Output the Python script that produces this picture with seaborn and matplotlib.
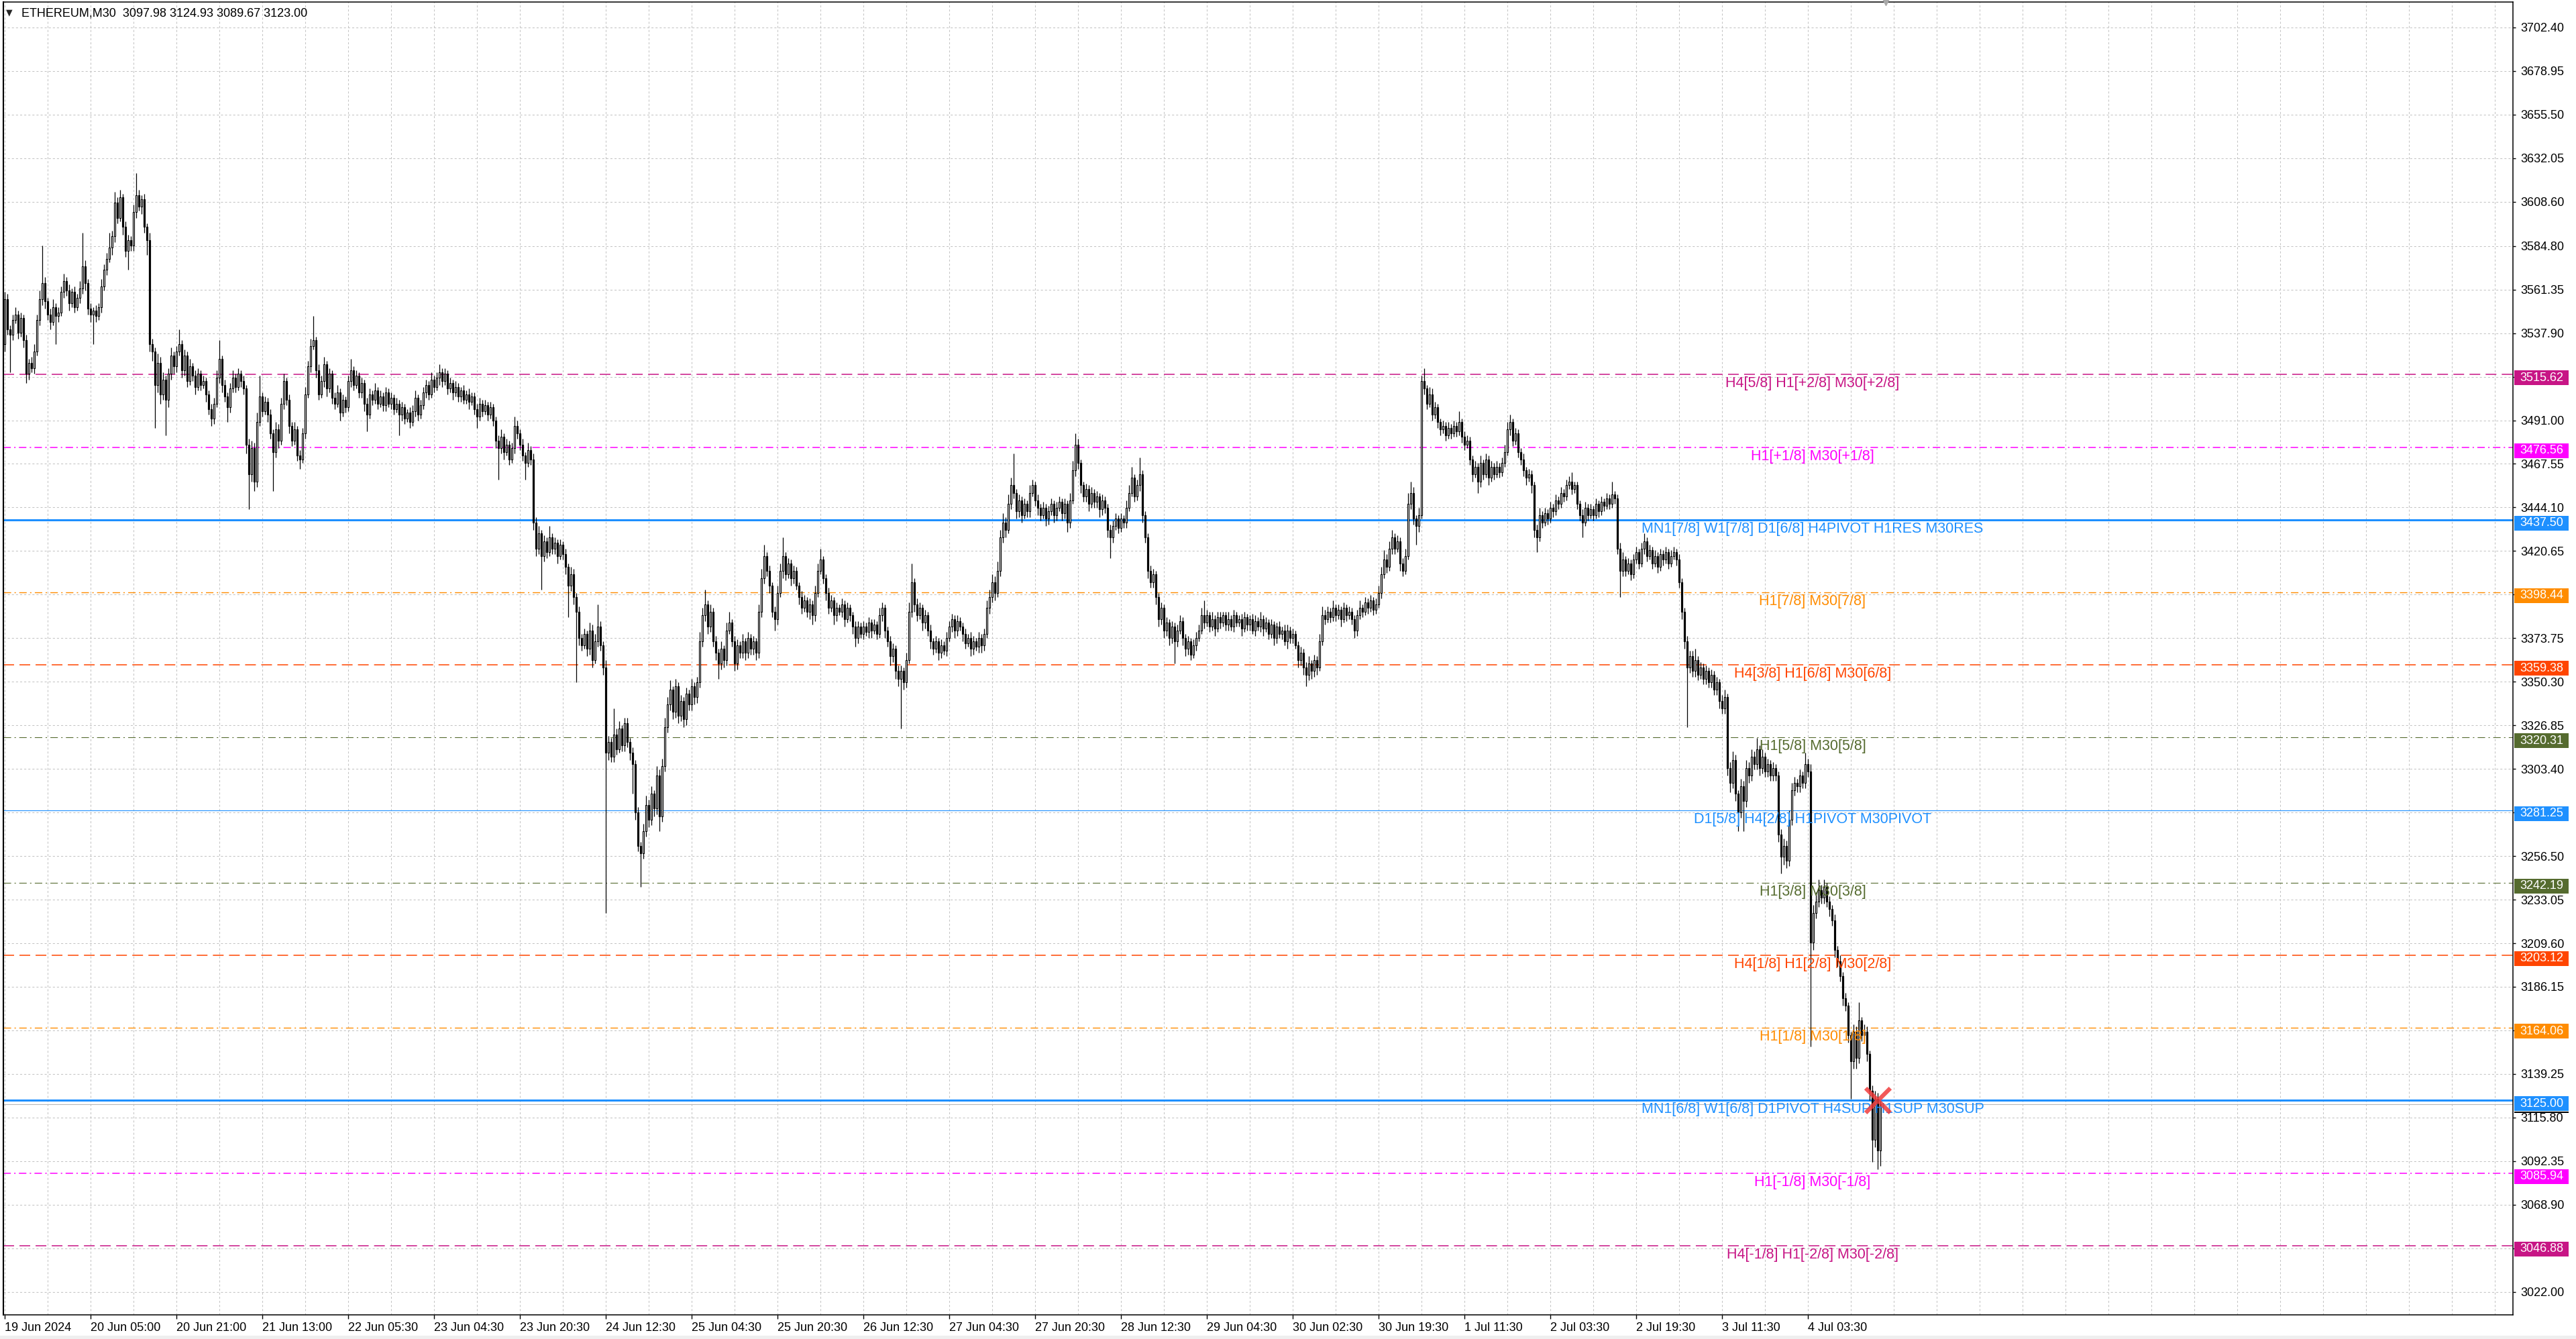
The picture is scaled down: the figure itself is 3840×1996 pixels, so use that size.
"""
ETHEREUM M30 candlestick chart with Murrey-math style levels
"""

import numpy as np
import matplotlib
matplotlib.use("Agg")
import matplotlib.pyplot as plt
import matplotlib.transforms as mtransforms
from matplotlib.patches import Rectangle
from matplotlib.ticker import FixedLocator
import seaborn as sns

sns.set_theme(style="white")
plt.rcParams.update({
    "font.family":        ["Liberation Sans", "DejaVu Sans"],
    "lines.scale_dashes": False,
    "axes.edgecolor":     "black",
    "figure.facecolor":   "white",
    "axes.facecolor":     "white",
})

# ─── DATA ────────────────────────────────────────────────────────────────────

first_open = 3532.0

closes = [
    3556, 3540, 3537, 3545, 3548, 3538, 3546, 3534, 3516, 3522, 3519, 3528, 3545, 3556, 3565, 3555,
    3548, 3544, 3552, 3547, 3549, 3560, 3566, 3561, 3554, 3560, 3552, 3557, 3562, 3574, 3565, 3551,
    3548, 3550, 3547, 3552, 3563, 3572, 3578, 3584, 3590, 3608, 3600, 3611, 3595, 3582, 3588, 3585,
    3603, 3612, 3606, 3610, 3595, 3588, 3532, 3528, 3510, 3522, 3505, 3513, 3502, 3516, 3526, 3520,
    3528, 3532, 3518, 3526, 3512, 3520, 3515, 3509, 3516, 3510, 3512, 3505, 3497, 3492, 3500, 3514,
    3524, 3510, 3504, 3498, 3508, 3514, 3509, 3516, 3512, 3508, 3478, 3462, 3476, 3458, 3490, 3504,
    3496, 3501, 3494, 3484, 3474, 3486, 3480, 3500, 3512, 3502, 3488, 3480, 3486, 3472, 3470, 3484,
    3505, 3520, 3531, 3534, 3518, 3505, 3512, 3521, 3508, 3516, 3503, 3500, 3506, 3495, 3502, 3498,
    3512, 3518, 3510, 3515, 3506, 3511, 3500, 3494, 3505, 3502, 3507, 3500, 3504, 3499, 3506, 3500,
    3503, 3497, 3500, 3494, 3498, 3492, 3495, 3490, 3496, 3503, 3494, 3499, 3506, 3510, 3505, 3513,
    3509, 3514, 3517, 3512, 3516, 3508, 3511, 3506, 3509, 3504, 3507, 3502, 3505, 3501, 3504, 3497,
    3493, 3500, 3496, 3499, 3494, 3498, 3491, 3480, 3476, 3482, 3474, 3478, 3470, 3476, 3488, 3484,
    3478, 3472, 3468, 3475, 3470, 3436, 3422, 3430, 3418, 3426, 3420, 3428, 3422, 3425, 3418, 3424,
    3419, 3412, 3402, 3408, 3396, 3388, 3374, 3370, 3376, 3368, 3378, 3362, 3372, 3380, 3370, 3358,
    3312, 3318, 3310, 3322, 3314, 3325, 3316, 3328, 3318, 3312, 3306, 3280, 3262, 3258, 3270, 3284,
    3276, 3290, 3282, 3300, 3278, 3305, 3326, 3338, 3346, 3334, 3348, 3332, 3340, 3330, 3344, 3338,
    3348, 3342, 3350, 3372, 3386, 3392, 3380, 3388, 3372, 3366, 3360, 3368, 3362, 3378, 3382, 3372,
    3360, 3370, 3366, 3372, 3366, 3374, 3368, 3372, 3366, 3388, 3406, 3418, 3410, 3402, 3388, 3384,
    3398, 3410, 3418, 3408, 3414, 3406, 3410, 3402, 3396, 3390, 3394, 3388, 3392, 3386, 3398, 3410,
    3416, 3406, 3398, 3390, 3394, 3386, 3390, 3388, 3392, 3384, 3390, 3386, 3380, 3374, 3380, 3376,
    3380, 3377, 3382, 3378, 3381, 3376, 3386, 3390, 3378, 3372, 3364, 3368, 3356, 3352, 3356, 3350,
    3362, 3388, 3404, 3392, 3386, 3390, 3382, 3386, 3378, 3372, 3368, 3372, 3366, 3370, 3367, 3374,
    3380, 3384, 3378, 3383, 3380, 3376, 3371, 3374, 3368, 3372, 3369, 3374, 3370, 3376, 3390, 3396,
    3404, 3398, 3410, 3428, 3436, 3432, 3446, 3456, 3452, 3442, 3448, 3440, 3446, 3442, 3452, 3456,
    3448, 3444, 3440, 3444, 3438, 3442, 3446, 3440, 3444, 3447, 3441, 3446, 3436, 3448, 3464, 3478,
    3468, 3456, 3450, 3454, 3446, 3452, 3447, 3450, 3443, 3448, 3444, 3432, 3428, 3434, 3438, 3433,
    3438, 3436, 3444, 3452, 3460, 3450, 3456, 3462, 3440, 3428, 3410, 3404, 3408, 3396, 3384, 3390,
    3378, 3382, 3374, 3380, 3372, 3378, 3383, 3374, 3368, 3372, 3365, 3370, 3374, 3378, 3386, 3382,
    3386, 3380, 3384, 3379, 3385, 3382, 3386, 3381, 3384, 3380, 3386, 3382, 3384, 3379, 3385, 3381,
    3384, 3378, 3383, 3380, 3384, 3379, 3382, 3376, 3381, 3374, 3380, 3376, 3378, 3372, 3378, 3374,
    3376, 3370, 3362, 3366, 3358, 3354, 3360, 3356, 3362, 3358, 3372, 3386, 3384, 3388, 3385, 3390,
    3386, 3389, 3384, 3390, 3386, 3388, 3384, 3378, 3386, 3390, 3388, 3393, 3390, 3394, 3389, 3392,
    3398, 3408, 3416, 3412, 3422, 3428, 3422, 3426, 3414, 3410, 3418, 3446, 3452, 3438, 3434, 3440,
    3512, 3508, 3500, 3505, 3494, 3498, 3490, 3486, 3488, 3483, 3487, 3484, 3488, 3485, 3490, 3482,
    3478, 3480, 3470, 3462, 3466, 3458, 3468, 3462, 3470, 3460, 3466, 3462, 3466, 3463, 3468, 3474,
    3486, 3490, 3480, 3484, 3474, 3470, 3464, 3460, 3462, 3456, 3432, 3428, 3440, 3436, 3441, 3438,
    3444, 3442, 3448, 3446, 3452, 3450, 3456, 3458, 3454, 3456, 3446, 3440, 3436, 3444, 3440, 3443,
    3440, 3446, 3442, 3447, 3445, 3449, 3446, 3451, 3449, 3422, 3410, 3416, 3410, 3414, 3408, 3416,
    3420, 3414, 3422, 3426, 3418, 3421, 3414, 3418, 3412, 3419, 3416, 3420, 3414, 3418, 3420, 3416,
    3404, 3388, 3372, 3358, 3364, 3356, 3362, 3354, 3358, 3352, 3356, 3350, 3354, 3346, 3350, 3340,
    3336, 3342, 3304, 3296, 3308, 3290, 3280, 3294, 3286, 3304, 3300, 3310, 3306, 3314, 3304, 3310,
    3302, 3306, 3300, 3304, 3300, 3268, 3256, 3262, 3254, 3276, 3292, 3296, 3294, 3300, 3296, 3306,
    3302, 3210, 3226, 3232, 3238, 3234, 3240, 3232, 3228, 3222, 3206, 3200, 3192, 3180, 3176, 3160,
    3146, 3162, 3148, 3168, 3160, 3162, 3150, 3130, 3104, 3126, 3097.98, 3123.00,
]

# distance from the body to the high / low of each candle
wick_up = [
    4, 3, 2, 3, 4, 2, 3, 2, 3, 2, 3, 4, 3, 5, 20, 3,
    2, 3, 4, 2, 3, 3, 4, 2, 3, 2, 3, 2, 4, 18, 3, 2,
    3, 2, 3, 2, 4, 3, 3, 8, 3, 6, 3, 4, 2, 3, 3, 2,
    4, 12, 3, 2, 3, 2, 4, 3, 2, 5, 3, 4, 2, 3, 4, 2,
    3, 8, 2, 3, 2, 4, 2, 3, 3, 2, 3, 2, 2, 3, 3, 4,
    10, 2, 3, 2, 3, 4, 2, 3, 2, 3, 2, 3, 4, 3, 5, 11,
    2, 3, 2, 3, 2, 4, 3, 3, 4, 2, 3, 2, 4, 2, 3, 3,
    4, 3, 4, 13, 2, 3, 3, 4, 2, 3, 2, 3, 4, 2, 3, 2,
    3, 6, 2, 3, 2, 3, 2, 3, 3, 2, 4, 2, 3, 2, 3, 2,
    3, 2, 3, 2, 3, 2, 2, 3, 3, 4, 2, 3, 3, 3, 2, 4,
    2, 3, 4, 2, 3, 2, 3, 2, 3, 2, 2, 3, 2, 3, 2, 2,
    3, 3, 2, 3, 2, 3, 2, 2, 3, 4, 2, 3, 2, 3, 5, 3,
    2, 3, 2, 4, 2, 3, 3, 4, 2, 3, 2, 6, 2, 3, 2, 3,
    2, 3, 2, 4, 3, 2, 3, 2, 3, 2, 4, 3, 4, 12, 3, 2,
    4, 3, 2, 14, 3, 4, 2, 3, 3, 2, 3, 2, 3, 2, 4, 5,
    3, 4, 2, 5, 3, 4, 5, 4, 5, 2, 4, 2, 3, 2, 3, 2,
    4, 2, 3, 5, 4, 8, 2, 4, 2, 3, 2, 4, 2, 4, 6, 2,
    3, 3, 2, 4, 2, 3, 2, 3, 2, 4, 5, 6, 2, 3, 2, 3,
    4, 4, 10, 2, 3, 2, 3, 2, 2, 3, 3, 2, 3, 2, 4, 4,
    6, 2, 2, 3, 3, 2, 3, 2, 3, 2, 3, 2, 2, 3, 3, 2,
    3, 2, 3, 2, 3, 2, 4, 3, 2, 2, 3, 3, 2, 3, 3, 2,
    4, 5, 10, 2, 3, 3, 2, 3, 2, 3, 2, 3, 2, 3, 2, 3,
    3, 3, 2, 3, 2, 2, 3, 2, 3, 3, 2, 3, 2, 3, 4, 4,
    4, 3, 5, 4, 5, 3, 5, 4, 17, 2, 3, 2, 3, 2, 4, 3,
    2, 3, 2, 3, 2, 3, 3, 2, 3, 3, 2, 3, 2, 4, 5, 6,
    3, 2, 2, 3, 2, 3, 2, 3, 2, 3, 2, 2, 3, 3, 3, 2,
    3, 2, 4, 4, 6, 2, 3, 9, 2, 2, 2, 3, 3, 2, 2, 3,
    2, 3, 2, 3, 2, 3, 3, 2, 2, 3, 2, 3, 3, 3, 4, 8,
    3, 2, 4, 2, 3, 3, 2, 2, 4, 2, 3, 2, 2, 3, 3, 2,
    2, 3, 3, 2, 4, 2, 3, 2, 3, 2, 2, 3, 2, 3, 3, 2,
    3, 2, 2, 3, 2, 3, 4, 2, 3, 2, 4, 5, 3, 3, 2, 4,
    2, 3, 2, 3, 2, 3, 2, 2, 3, 4, 2, 3, 2, 3, 2, 3,
    4, 4, 5, 3, 4, 4, 2, 3, 2, 3, 4, 6, 6, 3, 2, 4,
    3, 7, 2, 4, 3, 3, 2, 2, 3, 2, 3, 2, 3, 2, 6, 2,
    3, 3, 2, 2, 3, 2, 4, 2, 3, 2, 3, 2, 3, 2, 3, 4,
    4, 4, 2, 3, 2, 2, 3, 2, 3, 2, 2, 3, 4, 2, 3, 2,
    3, 2, 3, 2, 3, 2, 3, 3, 5, 2, 2, 2, 3, 3, 2, 3,
    2, 3, 2, 3, 2, 3, 2, 7, 2, 2, 3, 4, 2, 3, 2, 3,
    3, 2, 3, 4, 2, 3, 2, 3, 2, 3, 2, 3, 2, 3, 3, 2,
    3, 2, 2, 3, 3, 3, 6, 2, 3, 2, 3, 2, 3, 2, 3, 2,
    3, 4, 2, 3, 5, 3, 2, 4, 3, 4, 3, 4, 3, 6, 2, 4,
    2, 3, 2, 3, 2, 2, 3, 4, 3, 5, 4, 3, 2, 3, 2, 6,
    3, 4, 4, 5, 6, 3, 4, 2, 3, 2, 3, 2, 3, 2, 3, 2,
    2, 4, 3, 10, 2, 4, 3, 2, 3, 4, 3, 1.93,
]

wick_dn = [
    4, 3, 20, 3, 2, 3, 2, 4, 5, 3, 2, 3, 2, 3, 3, 4,
    3, 4, 2, 15, 3, 2, 3, 3, 4, 2, 3, 2, 3, 3, 4, 3,
    4, 16, 3, 2, 3, 2, 3, 2, 4, 3, 3, 2, 4, 3, 10, 3,
    3, 3, 2, 4, 3, 8, 4, 5, 23, 4, 5, 3, 19, 4, 3, 4,
    3, 2, 4, 3, 3, 2, 3, 4, 2, 3, 2, 4, 3, 4, 3, 2,
    3, 4, 3, 8, 3, 2, 3, 2, 3, 3, 5, 19, 4, 5, 3, 2,
    3, 2, 4, 3, 21, 3, 4, 2, 3, 3, 4, 3, 2, 3, 5, 2,
    3, 2, 3, 2, 4, 3, 2, 3, 4, 2, 3, 3, 2, 4, 2, 3,
    2, 3, 3, 2, 3, 3, 4, 9, 2, 3, 2, 3, 2, 3, 3, 2,
    3, 3, 2, 11, 3, 3, 2, 3, 2, 3, 3, 2, 2, 3, 3, 2,
    3, 2, 4, 3, 2, 3, 2, 4, 2, 3, 3, 2, 2, 4, 2, 3,
    6, 2, 3, 2, 3, 2, 3, 4, 17, 3, 4, 2, 3, 2, 3, 3,
    3, 3, 9, 2, 3, 4, 4, 3, 18, 3, 3, 2, 3, 3, 4, 2,
    3, 4, 17, 3, 4, 38, 4, 3, 2, 4, 3, 4, 2, 3, 3, 4,
    86, 4, 3, 3, 3, 2, 3, 3, 3, 4, 16, 4, 3, 18, 3, 3,
    4, 3, 4, 3, 8, 3, 3, 3, 3, 4, 3, 4, 3, 4, 3, 3,
    3, 4, 3, 3, 3, 3, 4, 3, 3, 4, 8, 3, 4, 3, 2, 3,
    4, 3, 3, 3, 4, 3, 3, 3, 4, 3, 3, 3, 3, 4, 3, 6,
    3, 2, 4, 3, 2, 4, 3, 2, 4, 3, 2, 3, 4, 5, 3, 2,
    2, 3, 4, 3, 2, 5, 3, 2, 3, 4, 2, 3, 4, 5, 3, 2,
    3, 2, 3, 4, 2, 3, 2, 3, 4, 3, 5, 3, 4, 4, 27, 4,
    3, 2, 3, 4, 3, 2, 4, 3, 3, 4, 3, 2, 4, 3, 2, 3,
    2, 3, 4, 3, 2, 4, 3, 2, 4, 3, 2, 3, 4, 3, 2, 3,
    3, 4, 2, 3, 3, 4, 2, 3, 3, 4, 3, 4, 2, 3, 3, 2,
    3, 4, 3, 2, 4, 3, 2, 4, 3, 2, 4, 3, 5, 3, 2, 3,
    3, 4, 3, 3, 4, 2, 3, 3, 4, 3, 3, 4, 11, 3, 2, 3,
    2, 3, 3, 2, 2, 3, 2, 3, 4, 3, 4, 3, 3, 4, 4, 3,
    4, 3, 4, 3, 12, 3, 2, 4, 4, 3, 3, 2, 3, 2, 2, 3,
    2, 3, 2, 4, 2, 3, 2, 3, 3, 2, 3, 2, 2, 4, 2, 3,
    3, 2, 3, 2, 3, 4, 2, 3, 2, 4, 3, 2, 3, 2, 4, 3,
    3, 2, 4, 3, 4, 6, 3, 4, 3, 4, 2, 2, 3, 2, 3, 2,
    3, 2, 4, 2, 3, 2, 3, 4, 3, 2, 3, 2, 3, 2, 3, 2,
    2, 3, 2, 3, 2, 3, 3, 2, 4, 3, 2, 2, 3, 3, 10, 3,
    2, 3, 3, 2, 3, 2, 3, 3, 2, 3, 2, 3, 2, 3, 2, 3,
    3, 2, 3, 4, 2, 6, 3, 3, 2, 4, 2, 3, 2, 3, 2, 2,
    2, 3, 3, 2, 3, 3, 3, 4, 2, 4, 4, 8, 2, 3, 2, 3,
    2, 3, 2, 3, 2, 3, 2, 2, 3, 2, 3, 3, 8, 2, 3, 2,
    3, 2, 3, 2, 3, 2, 3, 2, 3, 3, 14, 3, 3, 2, 3, 2,
    2, 3, 2, 3, 3, 2, 3, 2, 3, 2, 3, 2, 3, 2, 2, 3,
    3, 4, 4, 32, 3, 3, 3, 3, 2, 3, 3, 3, 3, 3, 3, 4,
    3, 3, 4, 5, 3, 4, 10, 3, 16, 3, 4, 3, 3, 3, 4, 3,
    3, 3, 3, 3, 3, 4, 9, 4, 4, 3, 3, 3, 3, 3, 3, 3,
    3, 56, 4, 3, 3, 3, 3, 3, 4, 3, 4, 3, 3, 4, 3, 4,
    20, 4, 6, 3, 3, 3, 4, 5, 12, 4, 10, 8.31,
]

assert len(closes) == len(wick_up) == len(wick_dn)

levels = [3515.62, 3476.56, 3437.50, 3398.44, 3359.38, 3320.31, 3281.25,
          3242.19, 3203.12, 3164.06, 3125.00, 3085.94, 3046.88]
level_labels = [
    "H4[5/8] H1[+2/8] M30[+2/8]",
    "H1[+1/8] M30[+1/8]",
    "MN1[7/8] W1[7/8] D1[6/8] H4PIVOT H1RES M30RES",
    "H1[7/8] M30[7/8]",
    "H4[3/8] H1[6/8] M30[6/8]",
    "H1[5/8] M30[5/8]",
    "D1[5/8] H4[2/8] H1PIVOT M30PIVOT",
    "H1[3/8] M30[3/8]",
    "H4[1/8] H1[2/8] M30[2/8]",
    "H1[1/8] M30[1/8]",
    "MN1[6/8] W1[6/8] D1PIVOT H4SUP H1SUP M30SUP",
    "H1[-1/8] M30[-1/8]",
    "H4[-1/8] H1[-2/8] M30[-2/8]",
]
level_colors = ["#C71585", "#FF00FF", "#1E90FF", "#FF8C00", "#FF4500", "#556B2F", "#1E90FF",
                "#556B2F", "#FF4500", "#FF8C00", "#1E90FF", "#FF00FF", "#C71585"]
DASH     = (0, (11.5, 5.8))
DASHDOT  = (0, (8, 3.6, 1.5, 3.6))
level_styles = [DASH, DASHDOT, "-", DASHDOT, DASH, DASHDOT, "-",
                DASHDOT, DASH, DASHDOT, "-", DASHDOT, DASH]
level_widths = [1.1, 1.1, 2.2, 1.0, 1.1, 0.8, 0.8, 0.8, 1.1, 1.0, 2.2, 1.1, 1.1]

price_ticks = [3702.40, 3678.95, 3655.50, 3632.05, 3608.60, 3584.80, 3561.35, 3537.90,
               3514.45, 3491.00, 3467.55, 3444.10, 3420.65, 3397.20, 3373.75, 3350.30,
               3326.85, 3303.40, 3279.95, 3256.50, 3233.05, 3209.60, 3186.15, 3162.70,
               3139.25, 3115.80, 3092.35, 3068.90, 3045.45, 3022.00]
hidden_ticks = [3514.45, 3397.20, 3279.95, 3162.70, 3045.45]   # covered by level boxes

time_labels = ["19 Jun 2024", "20 Jun 05:00", "20 Jun 21:00", "21 Jun 13:00", "22 Jun 05:30",
               "23 Jun 04:30", "23 Jun 20:30", "24 Jun 12:30", "25 Jun 04:30", "25 Jun 20:30",
               "26 Jun 12:30", "27 Jun 04:30", "27 Jun 20:30", "28 Jun 12:30", "29 Jun 04:30",
               "30 Jun 02:30", "30 Jun 19:30", "1 Jul 11:30", "2 Jul 03:30", "2 Jul 19:30",
               "3 Jul 11:30", "4 Jul 03:30"]
BARS_PER_LABEL = 32

header = "ETHEREUM,M30  3097.98 3124.93 3089.67 3123.00"
bid_price = 3123.00
marker_bar, marker_price = 698, 3125.00

# ─── CANDLES ─────────────────────────────────────────────────────────────────

c = np.array(closes, dtype=float)
o = np.r_[first_open, c[:-1]]
hi = np.maximum(o, c) + np.array(wick_up, dtype=float)
lo = np.minimum(o, c) - np.array(wick_dn, dtype=float)
x = np.arange(len(c))

W, H = 3840, 1996
fig = plt.figure(figsize=(W / 100, H / 100), dpi=100)
ax_l, ax_r, ax_t, ax_b = 5, 3746, 3, 1960
ax = fig.add_axes([ax_l / W, 1 - ax_b / H, (ax_r - ax_l) / W, (ax_b - ax_t) / H])

ax.vlines(x, lo, hi, color="black", lw=0.9, zorder=3)
bull = c >= o
ax.bar(x, np.maximum(np.abs(c - o), 0.35), bottom=np.minimum(o, c), width=0.7,
       color=np.where(bull, "white", "black"), edgecolor="black", linewidth=0.85, zorder=4)

ax.set_xlim(-0.5, 934.75)
ax.set_ylim(3009.6, 3716.1)

# ─── LEVELS ──────────────────────────────────────────────────────────────────

ax.axhline(bid_price, color="#B8B8B8", lw=0.8, zorder=2)
label_x = 673.75
lbl_tr = mtransforms.offset_copy(ax.transData, fig=fig, x=0, y=-3, units="dots")
box_tr = mtransforms.blended_transform_factory(ax.transAxes, ax.transData)
px_per_price = (ax_b - ax_t) / (3716.1 - 3009.6)
box_x0 = (3748 - ax_l) / (ax_r - ax_l)
box_w = 81 / (ax_r - ax_l)
box_h = 22 / px_per_price
box_shift = 5 / px_per_price          # the price boxes sit a few pixels below their line

for lvl, lab, col, ls, lw in zip(levels, level_labels, level_colors, level_styles, level_widths):
    ax.axhline(lvl, color=col, linestyle=ls, lw=lw, zorder=2)
    ax.text(label_x, lvl, lab, color=col, fontsize=15.5, ha="center", va="top",
            transform=lbl_tr, zorder=6)
    yc = lvl - box_shift
    ax.add_patch(Rectangle((box_x0, yc - box_h / 2), box_w, box_h, transform=box_tr,
                           facecolor=col, edgecolor="none", clip_on=False, zorder=7))
    ax.text(box_x0 + box_w / 2, yc, f"{lvl:.2f}", color="white", fontsize=13,
            ha="center", va="center", transform=box_tr, clip_on=False, zorder=8)

# thin black edge of the bid label peeking out under the 3125.00 box
ax.add_patch(Rectangle((box_x0, 3125.00 - box_shift - box_h / 2 - 1.0), box_w, 0.9,
                       transform=box_tr, facecolor="black", edgecolor="none",
                       clip_on=False, zorder=6.5))

sns.scatterplot(x=[marker_bar], y=[marker_price], marker="x", s=700, color="#F03C3C",
                linewidth=4.5, alpha=0.85, ax=ax, zorder=9, legend=False)
ax.plot([len(c) + 1], [3716.1], marker="v", color="#A8A8A8", ms=7, clip_on=False, zorder=9)

# ─── AXES, GRID, TICKS ───────────────────────────────────────────────────────

tick_pos = [i * BARS_PER_LABEL for i in range(len(time_labels))]
ax.set_xticks(tick_pos)
ax.set_xticklabels(time_labels)
for t in ax.get_xticklabels():
    t.set_ha("left")
ax.xaxis.set_minor_locator(FixedLocator(list(range(0, 935, 16))))

ax.set_yticks(price_ticks)
ax.set_yticklabels(["" if p in hidden_ticks else f"{p:.2f}" for p in price_ticks])
ax.yaxis.tick_right()

ax.tick_params(axis="x", which="major", length=4, width=1, pad=4, labelsize=13,
               colors="black", bottom=True, direction="out")
ax.tick_params(axis="x", which="minor", length=0)
ax.tick_params(axis="y", length=3, width=1, pad=5, labelsize=13, colors="black",
               right=True, left=False, direction="out")

ax.grid(True, which="both", axis="x", color="#C4C4C4", linestyle=(0, (2.2, 2.2)), lw=0.75)
ax.grid(True, which="major", axis="y", color="#C4C4C4", linestyle=(0, (2.2, 2.2)), lw=0.75)
ax.set_axisbelow(True)

for side, sp in ax.spines.items():
    sp.set_visible(True)
    sp.set_color("black")
    sp.set_linewidth(1.1)
ax.spines["left"].set_linewidth(1.5)

fig.text(9 / W, 1 - 19 / H, "▼", fontsize=9, va="center", ha="left",
         family=["DejaVu Sans"])
fig.text(32 / W, 1 - 20 / H, header, fontsize=13, va="center", ha="left", color="black")
fig.patches.append(Rectangle((0, 0), 1, 5 / H, transform=fig.transFigure,
                             facecolor="#EFEFEF", edgecolor="none"))

plt.savefig("out.png", dpi=100)
plt.close()
